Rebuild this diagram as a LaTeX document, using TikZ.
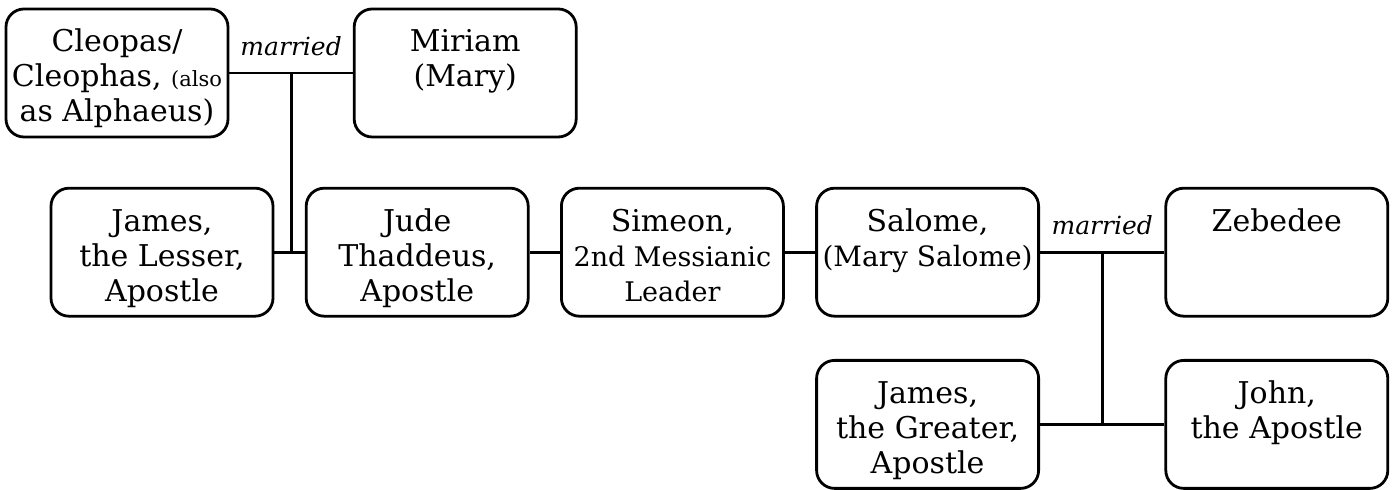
\documentclass[tikz,border=0pt]{standalone}
\usepackage{fontspec}
\setmainfont{DejaVu Serif}
\usetikzlibrary{positioning, calc}

\begin{document}
\begin{tikzpicture}[
      node distance=24.2pt and 15.2pt,
      person/.style={rectangle, rounded corners=9pt, draw, line width=1.4pt,
                     inner xsep=2.5pt, inner ysep=3pt, font=\fontsize{15}{17.5}\selectfont,
                     execute at begin node={\begin{minipage}[c][58pt][t]{106pt}\centering\vspace*{6pt}\rule{0pt}{12.5pt}},
                     execute at end node={\end{minipage}}},
      link/.style={line width=1.4pt},
      wed/.style={font=\fontsize{12.5}{14}\selectfont\itshape, inner sep=2pt, above=6pt}
    ]
    \useasboundingbox (0,0) rectangle (696pt,245pt);

    \node[person] (cleopas) at (58.5pt,208.5pt) {Cleopas/\\Cleophas, {\fontsize{10.5}{12}\selectfont(also}\\as Alphaeus)};
    \node[person, right=61.7pt of cleopas] (miriam) {Miriam\\(Mary)};
    \node[person, below=of cleopas, xshift=22.5pt] (jamesL) {James,\\the Lesser,\\Apostle};
    \node[person, right=of jamesL] (jude) {Jude\\Thaddeus,\\Apostle};
    \node[person, right=of jude] (simeon) {Simeon,\\\fontsize{13.5}{17.5}\selectfont 2nd Messianic\\Leader};
    \node[person, right=of simeon] (salome) {Salome,\\{\fontsize{14}{17.5}\selectfont(Mary Salome)}};
    \node[person, right=62.2pt of salome] (zebedee) {Zebedee};
    \node[person, below=20.7pt of salome] (jamesG) {James,\\the Greater,\\Apostle};
    \node[person, below=20.7pt of zebedee] (john) {John,\\the Apostle};

    % Cleopas and Miriam
    \draw[link] (cleopas) -- node[wed]{married} (miriam);
    \coordinate (wedA) at ($(cleopas.east)!0.5!(miriam.west)$);
    \draw[link] (wedA) -- (wedA |- jamesL.east);
    \draw[link] (jamesL) -- (jude);
    \draw[link] (jude) -- (simeon);
    \draw[link] (simeon) -- (salome);

    % Salome and Zebedee
    \draw[link] (salome) -- node[wed]{married} (zebedee);
    \coordinate (wedB) at ($(salome.east)!0.5!(zebedee.west)$);
    \draw[link] (wedB) -- (wedB |- jamesG.east);
    \draw[link] (jamesG) -- (john);
\end{tikzpicture}
\end{document}
